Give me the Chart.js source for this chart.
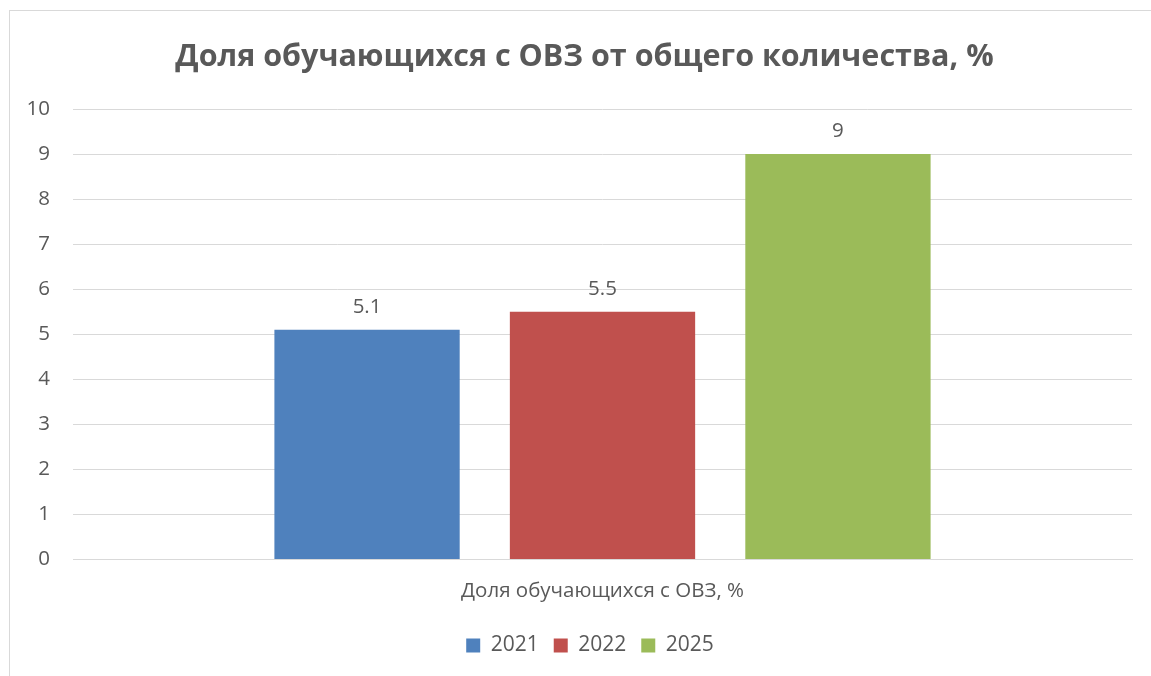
<!DOCTYPE html>
<html>
<head>
<meta charset="utf-8">
<script src="https://cdn.jsdelivr.net/npm/chart.js@4"></script>
<style>
  html, body { margin: 0; padding: 0; background: #fff; }
  #wrap { width: 1151px; height: 676px; }
</style>
</head>
<body>
<div id="wrap"><canvas id="canvas" width="1151" height="676"></canvas></div>
<script>
const categories = ["Доля обучающихся с ОВЗ, %"];
const years = ["2021", "2022", "2025"];
const values2021 = [5.1];
const values2022 = [5.5];
const values2025 = [9];
const yTicks = [0, 1, 2, 3, 4, 5, 6, 7, 8, 9, 10];
const chartTitle = "Доля обучающихся с ОВЗ от общего количества, %";

const colors = ["#4f81bd", "#c0504d", "#9bbb59"];
const seriesValues = [values2021, values2022, values2025];
const textColor = "#595959";
const fontFamily = "'Open Sans', 'DejaVu Sans', sans-serif";

// frame around the chart, like the office chart border
const framePlugin = {
  id: "frame",
  beforeDraw(chart) {
    const ctx = chart.ctx;
    ctx.save();
    ctx.fillStyle = "#fff";
    ctx.fillRect(0, 0, chart.width, chart.height);
    ctx.strokeStyle = "#d9d9d9";
    ctx.lineWidth = 1;
    ctx.strokeRect(9.5, 10.5, 1200, 700);
    ctx.restore();
    // legend sits centred on the frame, a bit right of the canvas centre
    if (chart.legend && !chart.legend._shifted) {
      chart.legend.left += 19;
      chart.legend.right += 19;
      chart.legend._shifted = true;
    }
  },
  // title is centred on the whole frame, not on the canvas
  afterDraw(chart) {
    const ctx = chart.ctx;
    ctx.save();
    ctx.fillStyle = textColor;
    ctx.font = "bold 30.5px " + fontFamily;
    ctx.textAlign = "center";
    ctx.textBaseline = "middle";
    ctx.fillText(chartTitle, 584.5, 57);
    ctx.restore();
  }
};

// value labels above each bar
const valueLabels = {
  id: "valueLabels",
  afterDatasetsDraw(chart) {
    const ctx = chart.ctx;
    ctx.save();
    ctx.fillStyle = textColor;
    ctx.font = "20.5px " + fontFamily;
    ctx.textAlign = "center";
    ctx.textBaseline = "middle";
    chart.data.datasets.forEach((ds, i) => {
      chart.getDatasetMeta(i).data.forEach((bar, j) => {
        ctx.fillText(String(ds.data[j]), bar.x, bar.y - 23);
      });
    });
    ctx.restore();
  }
};

new Chart(document.getElementById("canvas"), {
  type: "bar",
  data: {
    labels: categories,
    datasets: years.map((y, i) => ({
      label: y,
      data: seriesValues[i],
      backgroundColor: colors[i],
      categoryPercentage: 0.667,
      barPercentage: 0.787
    }))
  },
  options: {
    responsive: false,
    animation: false,
    devicePixelRatio: 1,
    layout: { padding: { left: 10, right: 19, top: 109, bottom: 10 } },
    plugins: {
      title: { display: false },
      legend: {
        position: "bottom",
        labels: {
          color: textColor,
          font: { family: fontFamily, size: 21 },
          boxWidth: 14,
          boxHeight: 14,
          padding: 15
        }
      },
      tooltip: { enabled: false }
    },
    scales: {
      x: {
        afterFit(scale) { scale.height += 6; },
        grid: { display: false },
        border: { color: "#d9d9d9" },
        ticks: { color: textColor, font: { family: fontFamily, size: 20.5 }, padding: 11 }
      },
      y: {
        min: 0,
        max: 10,
        afterBuildTicks(scale) { scale.ticks = yTicks.map(v => ({ value: v })); },
        afterFit(scale) { scale.width = 63; },
        grid: { color: "#d9d9d9", drawTicks: false },
        border: { display: false },
        ticks: { color: textColor, font: { family: fontFamily, size: 20.5 }, padding: 23 }
      }
    }
  },
  plugins: [framePlugin, valueLabels]
});
</script>
</body>
</html>
